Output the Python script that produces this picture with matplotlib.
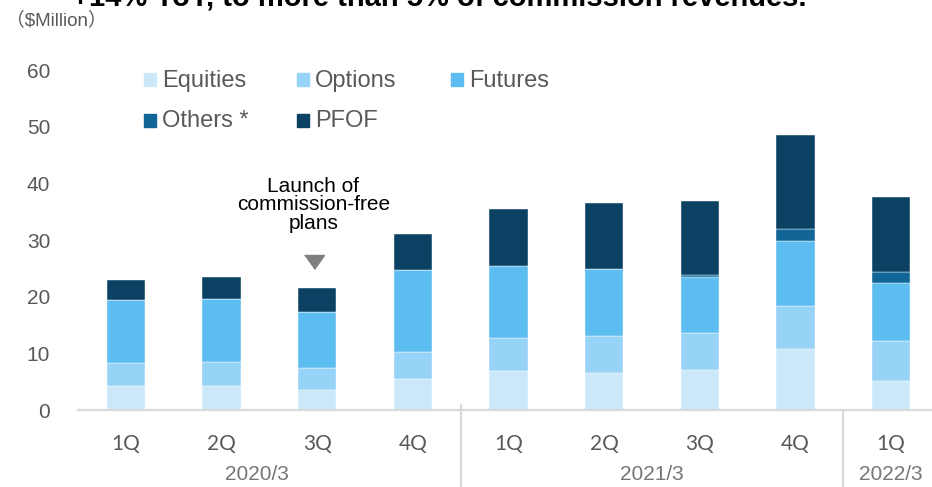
import matplotlib
matplotlib.use("Agg")
import matplotlib.pyplot as plt
from matplotlib.patches import Rectangle

# data ($Million), quarters of fiscal years 2020/3 .. 2022/3
quarters = ["1Q", "2Q", "3Q", "4Q", "1Q", "2Q", "3Q", "4Q", "1Q"]
years = ["2020/3", "2021/3", "2022/3"]
year_span = [(0, 3), (4, 7), (8, 8)]

equities = [4.2, 4.2, 3.5, 5.5, 6.9, 6.6, 7.0, 10.8, 5.2]
options = [4.1, 4.3, 3.9, 4.7, 5.8, 6.4, 6.6, 7.5, 7.0]
futures = [11.1, 11.1, 9.9, 14.5, 12.8, 11.9, 9.8, 11.6, 10.2]
others = [0, 0, 0, 0, 0, 0, 0.5, 2.0, 1.9]
pfof = [3.5, 3.9, 4.2, 6.3, 9.9, 11.7, 13.0, 16.6, 13.3]

series = [
    ("Equities", equities, "#cbe8f9"),
    ("Options", options, "#97d3f6"),
    ("Futures", futures, "#5ebdf0"),
    ("Others *", others, "#116597"),
    ("PFOF", pfof, "#0b4263"),
]

W, H = 932, 487
fig = plt.figure(figsize=(W / 100, H / 100), dpi=100)
# plot area in pixels: left 78, baseline 410, top (60) at 70
ax = fig.add_axes([78 / W, 77 / H, 861 / W, 340 / H])

x = list(range(len(quarters)))
bottom = [0.0] * len(x)
for name, vals, col in series:
    ax.bar(x, vals, 0.4, bottom=bottom, color=col, edgecolor="white", linewidth=0.3)
    bottom = [b + v for b, v in zip(bottom, vals)]

ax.set_xlim(-0.5, 8.5)
ax.set_ylim(0, 60)
for s in ax.spines.values():
    s.set_visible(False)
ax.axhline(0, color="#d9d9d9", lw=1.6, clip_on=False)

ax.set_yticks(range(0, 61, 10))
ax.tick_params(axis="y", length=0, pad=20, labelsize=15, labelcolor="#595959")
for t in ax.get_yticklabels():
    t.set_family("Liberation Sans")
ax.set_xticks(x, quarters)
ax.tick_params(axis="x", length=0, pad=17, labelsize=15, labelcolor="#595959")
for t in ax.get_xticklabels():
    t.set_family("Lato")

# year groups and separators
tr = ax.get_xaxis_transform()
for lab, (a, b) in zip(years, year_span):
    xc = (a + b) / 2 if lab != "2020/3" else 1.37
    ax.text(xc, -0.19, lab, transform=tr, ha="center", va="center",
            fontsize=15, color="#767676", family="Liberation Sans")
for xs, y0 in [(3.5, 0.015), (7.5, -0.005)]:
    ax.plot([xs, xs], [y0, -0.23], transform=tr, color="#d9d9d9", lw=1.6, clip_on=False)

# annotation
ax.text(1.96, 36.2, "Launch of\ncommission-free\nplans", ha="center", va="center",
        fontsize=15, linespacing=0.95, family="Liberation Sans", color="black")
ax.plot(1.97, 26.1, marker=[(-1, 0.7), (1, 0.7), (0, -0.7)], ms=14.4,
        color="#7f7f7f", clip_on=False)

# legend (row-major, like the source)
leg_pos = [(144, 80), (297, 80), (451, 80), (144, 120), (297, 120)]
for (name, vals, col), (px, py) in zip(series, leg_pos):
    fig.patches.append(Rectangle((px / W, 1 - (py + 6.5) / H), 12 / W, 13 / H,
                                 transform=fig.transFigure, color=col))
    fig.text((px + 18) / W, 1 - (py + 1) / H, name, ha="left", va="center",
             fontsize=17, color="#595959", family="Liberation Sans")

fig.text(6 / W, 1 - 20 / H, "（$Million）", ha="left", va="center", fontsize=13.5,
         color="#595959", family=["Liberation Sans", "Noto Sans CJK JP"])
# headline above the chart, cut by the top edge as in the source
fig.text(72 / W, 1 - 6 / H, "+14% YoY, to more than 5% of commission revenues.",
         ha="left", va="baseline", fontsize=21, fontweight="bold", color="black",
         family="Liberation Sans")

fig.savefig("out.png", dpi=100)
